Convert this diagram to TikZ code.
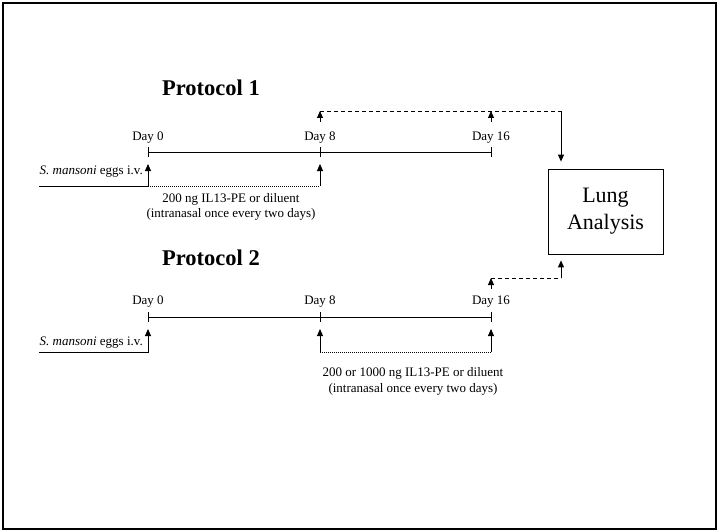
\documentclass[tikz,border=0pt]{standalone}
\usepackage{fontspec}
\setmainfont{Liberation Serif}
\usetikzlibrary{arrows.meta,positioning}

\tikzset{
  day/.style={font=\fontsize{13}{15}\selectfont, inner sep=0pt},
  txt/.style={font=\fontsize{13}{15.5}\selectfont, align=center, inner sep=0pt},
  ttl/.style={font=\fontsize{22.5}{25}\selectfont\bfseries, inner sep=0pt},
  tl/.style={line width=0.8pt},
  up/.style={line width=0.9pt, -{Triangle[length=7pt,width=6pt]}},
  dots/.style={line width=0.8pt, dash pattern=on 1pt off 1pt},
  dsh/.style={line width=0.9pt, dash pattern=on 4pt off 3pt},
  lungbox/.style={draw, line width=0.8pt, minimum width=115pt, minimum height=85pt,
    align=center, font=\fontsize{22}{27}\selectfont},
}

\begin{document}
\begin{tikzpicture}[x=1pt,y=-1pt]
\useasboundingbox (0,0) rectangle (720,532);
\draw[line width=1.2pt] (3,3) rectangle (716,529);

\node[lungbox] (lung) at (605.5,211.5) {Lung\\Analysis};

% protocol 1
\node[ttl] (title1) at (211,88) {Protocol 1};
\coordinate (p1d0) at (148,152);
\coordinate (p1d8) at (320,152);
\coordinate (p1d16) at (491,152);
\draw[tl] (p1d0) -- (p1d16);
\foreach \c in {p1d0,p1d8,p1d16}
  \draw[tl] ([yshift=-5pt]\c) -- ([yshift=5pt]\c);
\node[day, above=8pt of p1d0] (p1l0) {Day 0};
\node[day, above=8pt of p1d8] (p1l8) {Day 8};
\node[day, above=8pt of p1d16] (p1l16) {Day 16};

\coordinate (p1e) at (39,186);
\coordinate (p1a0) at (148,164);
\coordinate (p1a8) at (320,164);
\draw[up] (p1e) -| (p1a0);
\draw[dots] (p1a0 |- p1e) -- (p1a8 |- p1e);
\draw[up] (p1a8 |- p1e) -- (p1a8);
\node[txt, anchor=base east] (p1egg) at (143,175) {\textit{S. mansoni} eggs i.v.};
\node[txt] (p1dose) at (231,207) {200 ng IL13-PE or diluent\\(intranasal once every two days)};

\coordinate (p1u8) at (320,111);
\coordinate (p1u16) at (491,111);
\coordinate (p1in) at (561,111);
\draw[up] ([yshift=-11pt]p1u8) -- (p1u8);
\draw[up] ([yshift=-11pt]p1u16) -- (p1u16);
\draw[dsh] (p1u8) -- (p1in);
\draw[up, shorten >=7pt] (p1in) -- (p1in |- lung.north);

% protocol 2
\node[ttl] (title2) at (211,258) {Protocol 2};
\coordinate (p2d0) at (148,317);
\coordinate (p2d8) at (320,317);
\coordinate (p2d16) at (491,317);
\draw[tl] (p2d0) -- (p2d16);
\foreach \c in {p2d0,p2d8,p2d16}
  \draw[tl] ([yshift=-5pt]\c) -- ([yshift=5pt]\c);
\node[day, above=9pt of p2d0] (p2l0) {Day 0};
\node[day, above=9pt of p2d8] (p2l8) {Day 8};
\node[day, above=9pt of p2d16] (p2l16) {Day 16};

\coordinate (p2e) at (39,352);
\coordinate (p2a0) at (148,329);
\coordinate (p2a8) at (320,329);
\coordinate (p2a16) at (491,329);
\draw[up] (p2e) -| (p2a0);
\draw[up] (p2a8 |- p2e) -- (p2a8);
\draw[dots] (p2a8 |- p2e) -- (p2a16 |- p2e);
\draw[up] (p2a16 |- p2e) -- (p2a16);
\node[txt, anchor=base east] (p2egg) at (143,345) {\textit{S. mansoni} eggs i.v.};
\node[txt] (p2dose) at (413,381.5) {200 or 1000 ng IL13-PE or diluent\\(intranasal once every two days)};

\coordinate (p2u16) at (491,278);
\coordinate (p2in) at (561,278);
\draw[up] ([yshift=-11pt]p2u16) -- (p2u16);
\draw[dsh] (p2u16) -- (p2in);
\draw[up, shorten >=6pt] (p2in) -- (p2in |- lung.south);
\end{tikzpicture}
\end{document}
